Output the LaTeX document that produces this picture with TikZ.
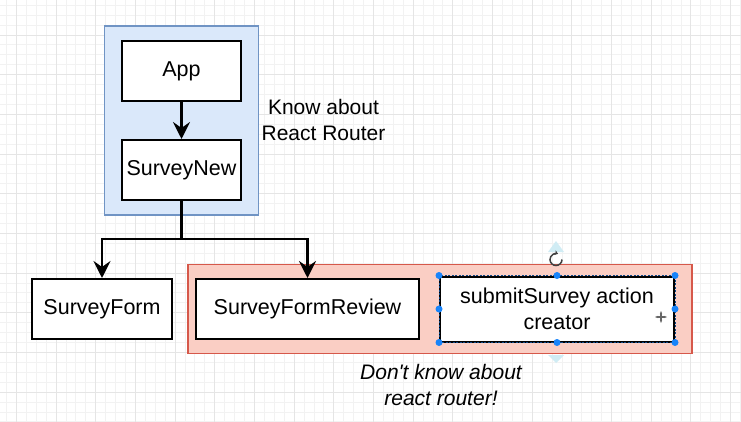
\documentclass[tikz,border=0pt]{standalone}
\usepackage{fontspec}
\newfontfamily\uifont{Liberation Sans}
\usetikzlibrary{positioning, calc, fit, arrows.meta, backgrounds}

\definecolor{routerfill}{RGB}{218,232,250}
\definecolor{routerline}{RGB}{112,148,196}
\definecolor{norouterfill}{RGB}{250,206,196}
\definecolor{norouterline}{RGB}{214,88,74}
\definecolor{gridminor}{RGB}{242,242,242}
\definecolor{gridmajor}{RGB}{229,229,229}
\definecolor{handle}{RGB}{24,132,250}
\definecolor{hint}{RGB}{208,236,244}

\tikzset{
  comp/.style={draw=black, line width=2pt, fill=white, minimum height=60pt, inner sep=2pt, font=\uifont\fontsize{21.5}{26}\selectfont},
  link/.style={line width=2.8pt, -{Stealth[length=17pt, width=17pt, inset=6pt]}},
  note/.style={align=center, font=\uifont\fontsize{21}{26}\selectfont},
  handledot/.style={circle, fill=handle, inner sep=0pt, minimum size=7pt},
}

\begin{document}
\begin{tikzpicture}[x=1pt, y=-1pt]
  \useasboundingbox (0,0) rectangle (741,422);

  % grid of the canvas
  \begin{scope}[on background layer]
    \fill[white] (0,0) rectangle (741,422);
    \foreach \i in {0,...,74} {
      \draw[gridminor, line width=0.8pt] ({6.4+\i*9.92},0) -- ++(0,422);
    }
    \foreach \i in {0,...,42} {
      \draw[gridminor, line width=0.8pt] (0,{5.2+\i*9.92}) -- ++(741,0);
    }
    \foreach \i in {0,...,18} {
      \draw[gridmajor, line width=0.8pt] ({16.3+\i*39.67},0) -- ++(0,422);
    }
    \foreach \i in {0,...,9} {
      \draw[gridmajor, line width=0.8pt] (0,{35+\i*39.67}) -- ++(741,0);
    }
  \end{scope}

  % components
  \node[comp, minimum width=119pt] (App) at (181.5,71) {App};
  \node[comp, minimum width=119pt, below=37pt of App] (SurveyNew) {SurveyNew};
  \node[comp, minimum width=140pt] (SurveyForm) at (102,309) {SurveyForm};
  \node[comp, minimum width=223pt, right=22pt of SurveyForm] (SurveyFormReview) {SurveyFormReview};
  \node[comp, minimum width=234pt, minimum height=65pt, align=center, right=19pt of SurveyFormReview] (submitSurvey) {submitSurvey action\\creator};

  % groups
  \begin{scope}[on background layer]
    \node[fit=(App)(SurveyNew), inner xsep=16.5pt, inner ysep=14pt, draw=routerline, fill=routerfill, line width=1.5pt] (router) {};
    \node[fit=(SurveyFormReview)(submitSurvey), inner xsep=12pt, inner ysep=11pt, xshift=5pt, draw=norouterline, fill=norouterfill, line width=1.5pt] (norouter) {};
  \end{scope}

  \node[note] (knows) at (323.5,120) {Know about\\React Router};
  \node[note, font=\uifont\fontsize{21}{26}\selectfont\itshape] (unaware) at (441,385) {Don't know about\\react router!};

  % connectors
  \coordinate (split) at ($(SurveyNew.south)+(0,38)$);
  \draw[link] (App) -- (SurveyNew);
  \draw[link] (SurveyNew.south) -- (split) -| (SurveyForm.north);
  \draw[link] (split) -| (SurveyFormReview.north);

  % selection of the action creator box
  \draw[handle!55!black, line width=1pt, dash pattern=on 2pt off 1.5pt] (submitSurvey.north west) rectangle (submitSurvey.south east);
  \foreach \a [count=\k] in {north west, north, north east, east, south east, south, south west, west} {
    \node[handledot] (grip\k) at (submitSurvey.\a) {};
  }
  \fill[hint] (556,241) -- (564,252) -- (548,252) -- cycle;
  \fill[hint] (548,355) -- (564,355) -- (556,363) -- cycle;
  \coordinate (turn) at ($(submitSurvey.north)+(-1,-16)$);
  \draw[black!75, line width=1.5pt, -{Stealth[length=3.5pt, width=5pt]}] (turn) ++(6,0) arc[start angle=0, end angle=290, radius=6];
  \coordinate (grab) at (661,317);
  \draw[black!60, line width=1.2pt, {Stealth[length=3pt]}-{Stealth[length=3pt]}] ($(grab)+(-6,0)$) -- ($(grab)+(6,0)$);
  \draw[black!60, line width=1.2pt, {Stealth[length=3pt]}-{Stealth[length=3pt]}] ($(grab)+(0,-6)$) -- ($(grab)+(0,6)$);
\end{tikzpicture}
\end{document}
